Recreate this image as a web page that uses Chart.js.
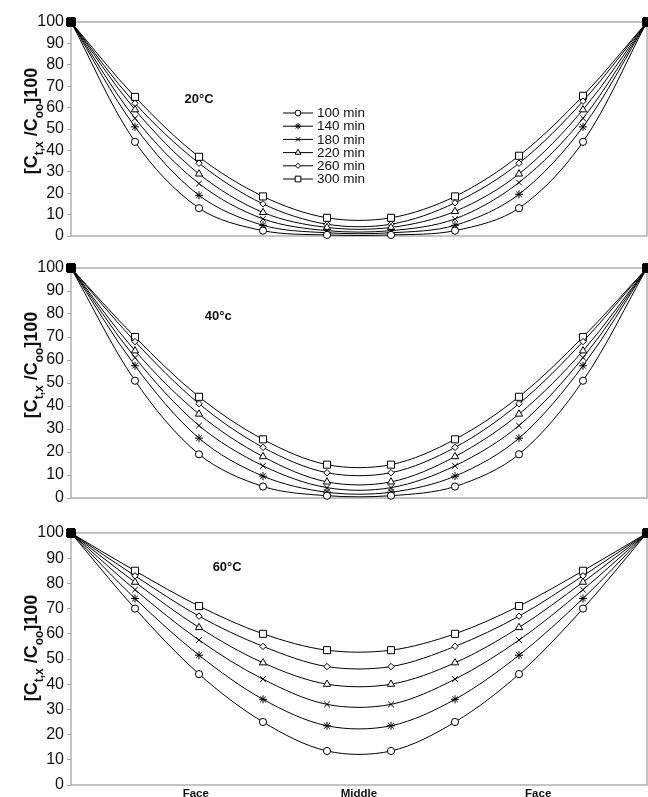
<!DOCTYPE html>
<html>
<head>
<meta charset="utf-8">
<script src="https://cdn.jsdelivr.net/npm/chart.js@4.4.1/dist/chart.umd.min.js"></script>
<style>
    body { margin: 0; background: #fff; width: 648px; height: 797px; position: relative; overflow: hidden; }
    canvas { position: absolute; left: 0; }
</style>
</head>
<body>
<canvas id="c20" width="648" height="257" style="top:0px"></canvas>
<canvas id="c40" width="648" height="264" style="top:257px"></canvas>
<canvas id="c60" width="648" height="276" style="top:521px"></canvas>
<script>
// x positions across the sample (face ... middle ... face)
const positions = [0, 1, 2, 3, 4, 5, 6, 7, 8, 9];
const seriesNames = ['100 min', '140 min', '180 min', '220 min', '260 min', '300 min'];
const xTickValues = [1.95, 4.5, 7.3];
const xTickLabels = ['Face', 'Middle', 'Face'];

// 20 °C
const d20_100 = [100, 44, 13, 2.5, 0.5, 0.5, 2.5, 13, 44, 100];
const d20_140 = [100, 51, 19, 5, 1.5, 1.5, 5, 19.5, 51, 100];
const d20_180 = [100, 55, 24.5, 8, 2.5, 2.5, 8, 25, 55, 100];
const d20_220 = [100, 59, 29, 11, 4, 4, 11.5, 29, 59, 100];
const d20_260 = [100, 62, 34, 15, 5.5, 5.5, 15.5, 34, 63, 100];
const d20_300 = [100, 65, 37, 18.5, 8.5, 8.5, 18.5, 37.5, 65.5, 100];

// 40 °C
const d40_100 = [100, 51, 19, 5, 1, 1, 5, 19, 51, 100];
const d40_140 = [100, 57.5, 26, 9.5, 2.5, 2.5, 9.5, 26, 57.5, 100];
const d40_180 = [100, 61, 31.5, 14, 4.5, 4.5, 14, 31.5, 61, 100];
const d40_220 = [100, 64, 36.5, 18, 7, 7, 18, 36.5, 64, 100];
const d40_260 = [100, 68, 41, 22, 11, 11, 22, 41, 68, 100];
const d40_300 = [100, 70, 44, 25.5, 14.5, 14.5, 25.5, 44, 70, 100];

// 60 °C
const d60_100 = [100, 70, 44, 25, 13.5, 13.5, 25, 44, 70, 100];
const d60_140 = [100, 74, 51.5, 34, 23.5, 23.5, 34, 51.5, 74, 100];
const d60_180 = [100, 77.5, 57.5, 42, 32, 32, 42, 57.5, 77.5, 100];
const d60_220 = [100, 80.5, 62.5, 48.5, 40, 40, 48.5, 62.5, 80.5, 100];
const d60_260 = [100, 83, 67, 55, 47, 47, 55, 67, 83, 100];
const d60_300 = [100, 85, 71, 60, 53.5, 53.5, 60, 71, 85, 100];

const markers = ['circle', 'star', 'crossRot', 'triangle', 'rectRot', 'rect'];
const markerSizes = [3.6, 4, 4, 4.2, 3.2, 5];
const FONT = '"Liberation Sans", Arial, sans-serif';

function drawYTitle(ctx, cx, cy) {
    const parts = [['[C', false], ['t,x', true], [' /C', false], ['oo', true], [']100', false]];
    const mainFont = 'bold 18px ' + FONT;
    const subFont = 'bold 12px ' + FONT;
    ctx.save();
    let total = 0;
    const widths = parts.map(p => {
        ctx.font = p[1] ? subFont : mainFont;
        const w = ctx.measureText(p[0]).width;
        total += w;
        return w;
    });
    ctx.translate(cx, cy);
    ctx.rotate(-Math.PI / 2);
    ctx.fillStyle = '#111';
    ctx.textBaseline = 'alphabetic';
    let x = -total / 2;
    parts.forEach((p, i) => {
        ctx.font = p[1] ? subFont : mainFont;
        ctx.fillText(p[0], x, p[1] ? 5.5 : 0);
        x += widths[i];
    });
    ctx.restore();
}

function makeChart(canvasId, series, opts) {
    const ctx = document.getElementById(canvasId).getContext('2d');
    const last = positions.length - 1;

    const datasets = series.map((values, i) => ({
        label: seriesNames[i],
        data: positions.map((x, j) => ({ x: x, y: values[j] })),
        borderColor: '#000',
        borderWidth: 1,
        tension: 0.33,
        fill: false,
        clip: false,
        pointStyle: c => (c.dataIndex === 0 || c.dataIndex === last) ? 'rect' : markers[i],
        pointRadius: c => (c.dataIndex === 0 || c.dataIndex === last) ? 5.7 : markerSizes[i],
        pointBackgroundColor: c => (c.dataIndex === 0 || c.dataIndex === last) ? '#000' : '#fff',
        pointBorderColor: '#000',
        pointBorderWidth: 1
    }));

    const decorations = {
        id: 'decorations',
        beforeDatasetsDraw(chart) {
            const a = chart.chartArea;
            const c = chart.ctx;
            c.save();
            c.strokeStyle = '#a3a3a3';
            c.lineWidth = 1.3;
            c.strokeRect(a.left, a.top, a.right - a.left, a.bottom - a.top);
            c.restore();
        },
        afterDraw(chart) {
            const a = chart.chartArea;
            const c = chart.ctx;
            const xs = chart.scales.x;
            const ys = chart.scales.y;
            drawYTitle(c, 37, opts.titleY);

            c.save();
            c.fillStyle = '#111';
            c.font = 'bold 13px ' + FONT;
            c.textAlign = 'center';
            c.textBaseline = 'middle';
            c.fillText(opts.temp, xs.getPixelForValue(opts.tempAt[0]), ys.getPixelForValue(opts.tempAt[1]));
            c.restore();

            if (opts.legend) {
                const lx = a.left + 212;
                const ly = a.top + 91;
                c.save();
                c.font = '13.5px ' + FONT;
                c.textBaseline = 'middle';
                c.textAlign = 'left';
                seriesNames.forEach((name, i) => {
                    const y = ly + i * 13.2;
                    c.strokeStyle = '#000';
                    c.lineWidth = 1;
                    c.beginPath();
                    c.moveTo(lx, y);
                    c.lineTo(lx + 30, y);
                    c.stroke();
                    c.fillStyle = '#fff';
                    Chart.helpers.drawPoint(c, {
                        pointStyle: markers[i], rotation: 0,
                        radius: markerSizes[i] * 0.8, borderWidth: 1
                    }, lx + 15, y);
                    c.fillStyle = '#111';
                    c.fillText(name, lx + 34, y + 0.5);
                });
                c.restore();
            }
        }
    };

    return new Chart(ctx, {
        type: 'line',
        data: { datasets: datasets },
        options: {
            responsive: false,
            animation: false,
            events: [],
            layout: { autoPadding: false, padding: opts.padding },
            plugins: { legend: { display: false }, tooltip: { enabled: false } },
            scales: {
                x: {
                    type: 'linear',
                    min: 0,
                    max: 9,
                    display: opts.showX,
                    grid: { display: false, drawTicks: false, tickLength: 0 },
                    border: { display: false },
                    afterFit: s => { s.height = 12; },
                    afterBuildTicks: s => { s.ticks = xTickValues.map(v => ({ value: v })); },
                    ticks: {
                        autoSkip: false,
                        maxRotation: 0,
                        padding: 3,
                        color: '#111',
                        font: { family: FONT, size: 11.5, weight: 'bold', lineHeight: 1 },
                        callback: (v, i) => xTickLabels[i]
                    }
                },
                y: {
                    min: 0,
                    max: 100,
                    afterFit: s => { s.width = 71; },
                    grid: { drawOnChartArea: false, drawTicks: true, tickLength: 4, color: '#a3a3a3' },
                    border: { display: false },
                    ticks: {
                        stepSize: 10,
                        padding: 3,
                        color: '#111',
                        font: { family: FONT, size: 16, lineHeight: 1 }
                    }
                }
            }
        },
        plugins: [decorations]
    });
}

makeChart('c20', [d20_100, d20_140, d20_180, d20_220, d20_260, d20_300], {
    padding: { top: 22, right: 1, bottom: 9, left: 0 },
    showX: false, temp: '20°C', tempAt: [2.0, 64], titleY: 121, legend: true
});
makeChart('c40', [d40_100, d40_140, d40_180, d40_220, d40_260, d40_300], {
    padding: { top: 10, right: 1, bottom: 11, left: 0 },
    showX: false, temp: '40°c', tempAt: [2.3, 79], titleY: 108, legend: false
});
makeChart('c60', [d60_100, d60_140, d60_180, d60_220, d60_260, d60_300], {
    padding: { top: 12, right: 1, bottom: 0, left: 0 },
    showX: true, temp: '60°C', tempAt: [2.44, 86.4], titleY: 127, legend: false
});
</script>
</body>
</html>
